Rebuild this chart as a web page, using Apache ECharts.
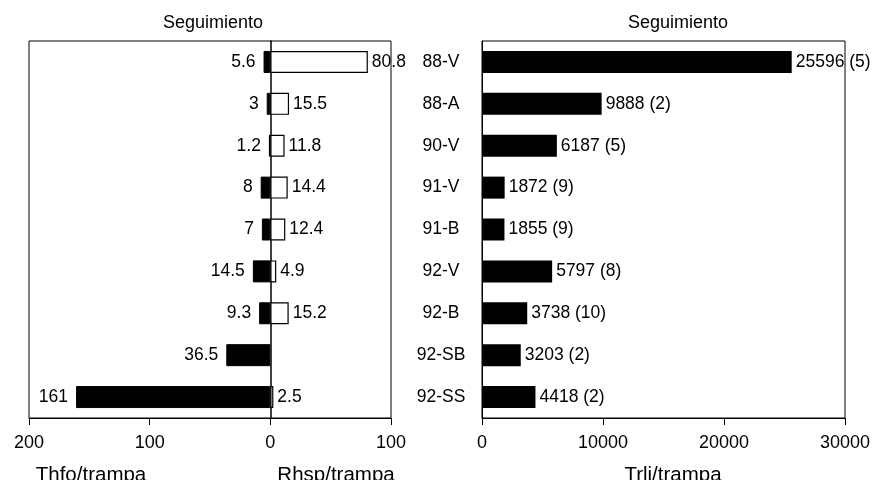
<!DOCTYPE html>
<html><head><meta charset="utf-8">
<script src="https://cdn.jsdelivr.net/npm/echarts@6/dist/echarts.min.js"></script>
<style>html,body{margin:0;padding:0;background:#fff}#c{width:875px;height:480px}</style>
</head><body><div id="c"></div>
<script>
var categories = ['88-V','88-A','90-V','91-V','91-B','92-V','92-B','92-SB','92-SS'];
var thfo = [5.6, 3, 1.2, 8, 7, 14.5, 9.3, 36.5, 161];
var rhsp = [80.8, 15.5, 11.8, 14.4, 12.4, 4.9, 15.2, null, 2.5];
var trli = [25596, 9888, 6187, 1872, 1855, 5797, 3738, 3203, 4418];
var trliN = [5, 2, 5, 9, 9, 8, 10, 2, 2];
var leftTicks = [200, 100, 0, 100];
var rightTicks = [0, 10000, 20000, 30000];

var font = 'Liberation Sans, Arial, sans-serif';
var chart = echarts.init(document.getElementById('c'));
var lab = {color:'#000', fontFamily:font, fontSize:17.5};
var tick = {color:'#000', fontFamily:font, fontSize:18};
function ttl(t, x, y, s){
  return {text:t, left:x, top:y, textAlign:'center',
    textStyle:{fontFamily:font, fontSize:s, fontWeight:'normal', color:'#000'}};
}
chart.setOption({
  animation:false,
  title:[
    ttl('Seguimiento', 208, 9, 18),
    ttl('Seguimiento', 673, 9, 18),
    ttl('Thfo/trampa', 86, 460, 20.5),
    ttl('Rhsp/trampa', 331, 460, 20.5),
    ttl('Trli/trampa', 668, 460, 20.5)
  ],
  grid:[
    {left:29, right:484, top:41, bottom:62, show:true, borderColor:'#000', borderWidth:1},
    {left:482, right:30, top:41, bottom:62, show:true, borderColor:'#000', borderWidth:1}
  ],
  xAxis:[
    {gridIndex:0, type:'value', min:-200, max:100, interval:100,
     axisLine:{show:true, onZero:false, lineStyle:{color:'#000'}},
     axisTick:{show:true, length:7, lineStyle:{color:'#000'}},
     splitLine:{show:false},
     axisLabel:Object.assign({margin:16, formatter:function(v){return String(leftTicks[Math.round((v+200)/100)]);}}, tick)},
    {gridIndex:1, type:'value', min:0, max:30000, interval:10000,
     axisLine:{show:true, lineStyle:{color:'#000'}},
     axisTick:{show:true, length:7, lineStyle:{color:'#000'}},
     splitLine:{show:false},
     axisLabel:Object.assign({margin:16, formatter:function(v){return String(rightTicks[Math.round(v/10000)]);}}, tick)}
  ],
  yAxis:[
    {gridIndex:0, type:'category', data:categories, inverse:true,
     axisLine:{show:true, onZero:true, lineStyle:{color:'#000', width:1.5}},
     axisTick:{show:false}, axisLabel:{show:false}},
    {gridIndex:1, type:'category', data:categories, inverse:true,
     axisLine:{show:true, lineStyle:{color:'#000'}},
     axisTick:{show:false},
     axisLabel:Object.assign({margin:41, align:'center'}, lab)}
  ],
  series:[
    {type:'bar', xAxisIndex:0, yAxisIndex:0, barWidth:22, barGap:'-100%',
     data:thfo.map(function(v){return -v;}),
     itemStyle:{color:'#000', borderColor:'#000', borderWidth:1},
     label:Object.assign({show:true, position:'left', distance:8, formatter:function(p){return String(thfo[p.dataIndex]);}}, lab)},
    {type:'bar', xAxisIndex:0, yAxisIndex:0, barWidth:22, barGap:'-100%',
     data:rhsp,
     itemStyle:{color:'#fff', borderColor:'#000', borderWidth:1.2},
     label:Object.assign({show:true, position:'right', distance:4, formatter:function(p){return p.value==null?'':String(p.value);}}, lab)},
    {type:'bar', xAxisIndex:1, yAxisIndex:1, barWidth:22,
     data:trli,
     itemStyle:{color:'#000'},
     label:Object.assign({show:true, position:'right', distance:4, formatter:function(p){return trli[p.dataIndex]+' ('+trliN[p.dataIndex]+')';}}, lab)}
  ]
});
</script></body></html>
